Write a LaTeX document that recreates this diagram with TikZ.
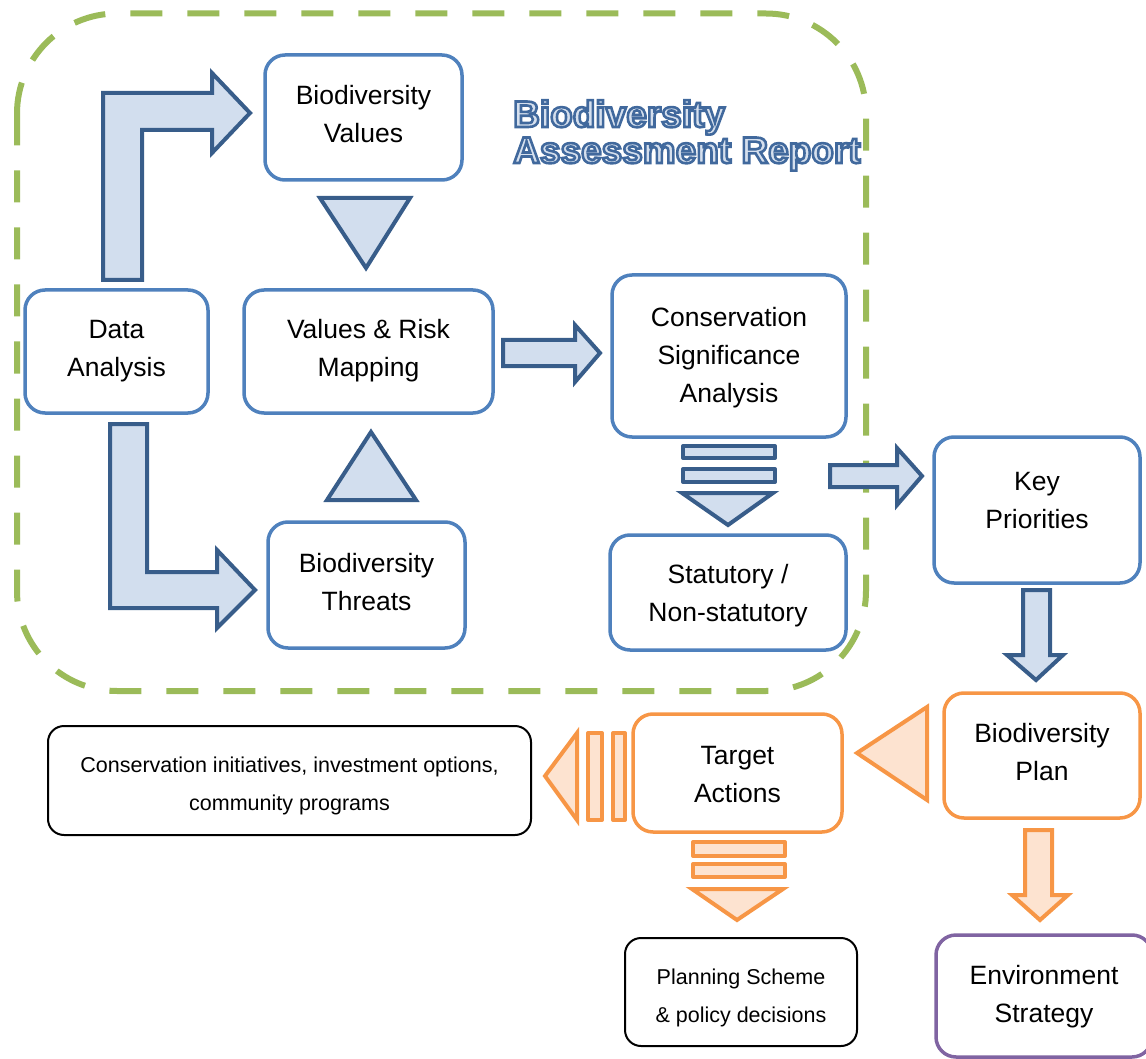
\documentclass[tikz,border=0pt]{standalone}
\usepackage{fontspec}
\setmainfont{Liberation Sans}
\definecolor{nodeblue}{HTML}{4F81BD}
\definecolor{arrblue}{HTML}{385D8A}
\definecolor{arrfill}{HTML}{D2DEEE}
\definecolor{orbord}{HTML}{F79646}
\definecolor{orfill}{HTML}{FDE3D0}
\definecolor{purp}{HTML}{8064A2}
\definecolor{dashgreen}{HTML}{9BBB59}
\definecolor{titlefill}{HTML}{D6E0EE}
\newcommand{\outlinetext}[1]{\color{titlefill}\special{pdf:literal direct 0.255 0.412 0.616 RG 2 Tr 2.6 w}#1\special{pdf:literal direct 0 Tr}}
\begin{document}
\begin{tikzpicture}[x=1pt,y=-1pt,
  bluebox/.style={draw=nodeblue, line width=3.5pt, rounded corners=20pt, fill=white, inner sep=0pt},
  orangebox/.style={bluebox, draw=orbord},
  purplebox/.style={bluebox, draw=purp},
  blackbox/.style={draw=black, line width=2pt, rounded corners=16pt, fill=white, inner sep=0pt},
  bigtext/.style={align=center, inner sep=0pt, font=\fontsize{26.5}{38}\selectfont},
  smalltext/.style={align=center, inner sep=0pt, font=\fontsize{21.5}{38}\selectfont},
  barrow/.style={draw=arrblue, fill=arrfill, line width=4pt, line join=miter},
  oarrow/.style={draw=orbord, fill=orfill, line width=4pt, line join=miter},
  bbar/.style={draw=arrblue, fill=arrfill, line width=4pt, line join=round},
  obar/.style={draw=orbord, fill=orfill, line width=4pt, line join=round},
  region/.style={draw=dashgreen, line width=6pt, rounded corners=100pt, dash pattern=on 32pt off 25pt},
  titletext/.style={anchor=base west, inner sep=0pt, font=\fontsize{37}{37}\selectfont\bfseries}
]
\useasboundingbox (0,0) rectangle (1146,1059);

% dashed region
\draw[region] (17,13.5) rectangle (866,691);

% title (outlined text)
\node[titletext] (title1) at (513,127) {\outlinetext{Biodiversity}};
\node[titletext] (title2) at (513,163) {\outlinetext{Assessment Report}};

% boxes
\node[bluebox, minimum width=197, minimum height=125] (bv) at (363.5,117.5) {};
\node[bluebox, minimum width=183, minimum height=123] (da) at (116.5,351.5) {};
\node[bluebox, minimum width=249, minimum height=123] (vr) at (368.5,351.5) {};
\node[bluebox, minimum width=197, minimum height=126] (bt) at (366.5,585) {};
\node[bluebox, minimum width=234, minimum height=162] (cs) at (729,356) {};
\node[bluebox, minimum width=236, minimum height=115] (st) at (728,592.5) {};
\node[bluebox, minimum width=206, minimum height=146] (kp) at (1037,510) {};
\node[orangebox, minimum width=196, minimum height=125] (bp) at (1042,755.5) {};
\node[orangebox, minimum width=209, minimum height=118] (ta) at (737.5,773) {};
\node[blackbox, minimum width=483, minimum height=109] (ci) at (289.5,780.5) {};
\node[blackbox, minimum width=232, minimum height=108] (ps) at (741,992) {};
\node[purplebox, minimum width=216, minimum height=122] (es) at (1044,996) {};

% box texts
\node[bigtext] (bvT) at ([yshift=3]bv.center) {Biodiversity\\Values};
\node[bigtext] (daT) at (da.center) {Data\\Analysis};
\node[bigtext] (vrT) at ([yshift=1]vr.center) {Values \& Risk\\Mapping};
\node[bigtext] (btT) at ([yshift=3]bt.center) {Biodiversity\\Threats};
\node[bigtext] (csT) at ([yshift=-1.5]cs.center) {Conservation\\Significance\\Analysis};
\node[bigtext] (stT) at ([yshift=-3]st.center) {Statutory /\\Non-statutory};
\node[bigtext] (kpT) at ([yshift=9]kp.center) {Key\\Priorities};
\node[bigtext] (bpT) at ([yshift=3]bp.center) {Biodiversity\\Plan};
\node[bigtext] (taT) at ([yshift=-2]ta.center) {Target\\Actions};
\node[smalltext] (ciT) at ([yshift=-5]ci.center) {Conservation initiatives, investment options,\\community programs};
\node[smalltext] (psT) at ([yshift=-6]ps.center) {Planning Scheme\\\& policy decisions};
\node[bigtext] (esT) at ([yshift=-1]es.center) {Environment\\Strategy};

% blue block arrows
\draw[barrow] (103,280) -- (103,93) -- (212,93) -- (212,73) -- (250,113) -- (212,153) -- (212,130) -- (142,130) -- (142,280) -- cycle;
\draw[barrow] (110,424) -- (147,424) -- (147,572) -- (217,572) -- (217,550) -- (255,590) -- (217,628) -- (217,608) -- (110,608) -- cycle;
\draw[barrow] (320,198) -- (410,198) -- (366,268) -- cycle;
\draw[barrow] (327,500) -- (416,500) -- (371,432) -- cycle;
\draw[barrow] (503,340) -- (575,340) -- (575,325) -- (600,353) -- (575,382) -- (575,366) -- (503,366) -- cycle;
\draw[bbar] (683,446) rectangle (775,458);
\draw[bbar] (683,469) rectangle (775,482);
\draw[barrow] (682,493) -- (773,493) -- (728,525) -- cycle;
\draw[barrow] (830,465) -- (897,465) -- (897,448) -- (922,476) -- (897,505) -- (897,487) -- (830,487) -- cycle;
\draw[barrow] (1023,590) -- (1050,590) -- (1050,655) -- (1063,655) -- (1036,680) -- (1007,655) -- (1023,655) -- cycle;

% orange block arrows
\draw[oarrow] (927,707) -- (927,800) -- (857,753) -- cycle;
\draw[oarrow] (577,733) -- (577,820) -- (545,776) -- cycle;
\draw[obar] (588,733) rectangle (602,820);
\draw[obar] (613,733) rectangle (625,820);
\draw[obar] (693,842) rectangle (785,856);
\draw[obar] (693,864) rectangle (785,877);
\draw[oarrow] (692,889) -- (783,889) -- (737,920) -- cycle;
\draw[oarrow] (1025,830) -- (1052,830) -- (1052,895) -- (1068,895) -- (1040,920) -- (1012,895) -- (1025,895) -- cycle;
\end{tikzpicture}
\end{document}
